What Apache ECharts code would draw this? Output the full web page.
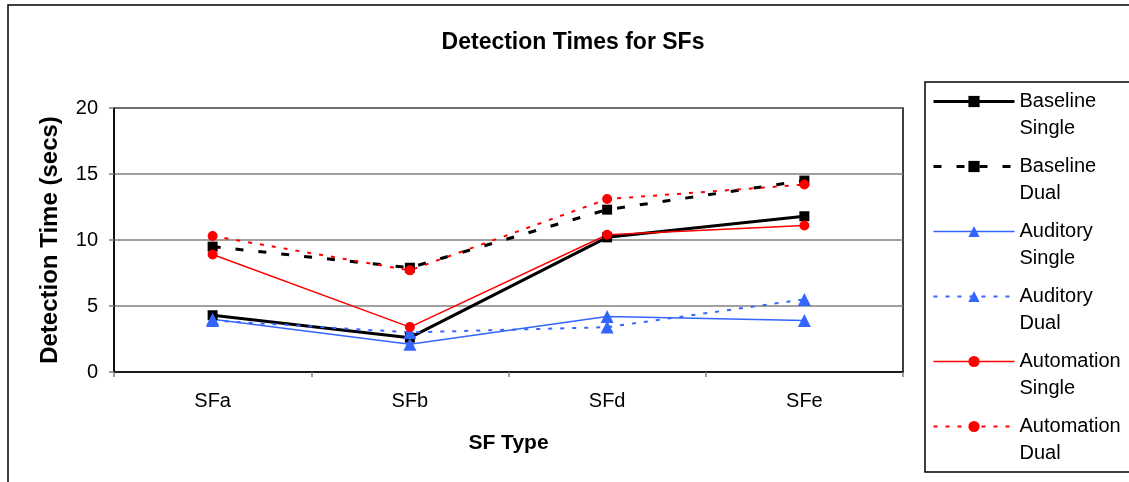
<!DOCTYPE html>
<html>
<head>
<meta charset="utf-8">
<script src="https://cdn.jsdelivr.net/npm/echarts@6/dist/echarts.min.js"></script>
<style>
html,body{margin:0;padding:0;background:#fff;}
#chart{width:1129px;height:482px;}
</style>
</head>
<body>
<div id="chart"></div>
<script>
const categories = ['SFa', 'SFb', 'SFd', 'SFe'];
const yTicks = [0, 5, 10, 15, 20];
const baselineSingle = [4.3, 2.6, 10.2, 11.8];
const baselineDual = [9.5, 7.9, 12.3, 14.5];
const auditorySingle = [4.0, 2.1, 4.2, 3.9];
const auditoryDual = [3.9, 3.0, 3.4, 5.5];
const automationSingle = [8.9, 3.4, 10.4, 11.1];
const automationDual = [10.3, 7.7, 13.1, 14.2];

const FONT = '"Liberation Sans", Arial, sans-serif';
const BLUE = '#3366FF';
const RED = '#FF0000';

function mk(name, data, color, width, type, symbol, size) {
  return {
    name: name, type: 'line', data: data,
    symbol: symbol, symbolSize: size, showSymbol: true,
    lineStyle: { color: color, width: width, type: type },
    itemStyle: { color: color },
    emphasis: { disabled: true },
    silent: true
  };
}

const chart = echarts.init(document.getElementById('chart'), null, { renderer: 'canvas' });
chart.setOption({
  animation: false,
  backgroundColor: '#fff',
  title: {
    text: 'Detection Times for SFs',
    left: 568, top: 26, textAlign: 'center',
    textStyle: { fontFamily: FONT, fontSize: 23, fontWeight: 'bold', color: '#000' }
  },
  graphic: [
    { type: 'rect', shape: { x: 8, y: 5, width: 1130, height: 482 }, style: { fill: 'none', stroke: '#000', lineWidth: 1.5 }, silent: true },
    { type: 'rect', shape: { x: 925, y: 82, width: 210, height: 390 }, style: { fill: 'none', stroke: '#000', lineWidth: 1.5 }, silent: true }
  ],
  legend: {
    orient: 'vertical', left: 932, top: 61, padding: 0,
    itemWidth: 81, itemHeight: 14, itemGap: -16,
    selectedMode: false,
    formatter: function (n) { return '\n' + n.replace(' ', '\n'); },
    textStyle: { fontFamily: FONT, fontSize: 20, color: '#000', lineHeight: 27 },
    data: [
      { name: 'Baseline Single', lineStyle: { width: 3 } },
      { name: 'Baseline Dual', lineStyle: { width: 3 } },
      { name: 'Auditory Single', lineStyle: { width: 1.5 } },
      { name: 'Auditory Dual', lineStyle: { width: 2 } },
      { name: 'Automation Single', lineStyle: { width: 1.5 } },
      { name: 'Automation Dual', lineStyle: { width: 2 } }
    ]
  },
  grid: { left: 114, top: 108, width: 789, height: 264, show: true, borderColor: '#000', borderWidth: 1.5, containLabel: false },
  xAxis: {
    type: 'category', data: categories, boundaryGap: true,
    name: 'SF Type', nameLocation: 'middle', nameGap: 61,
    nameTextStyle: { fontFamily: FONT, fontSize: 21, fontWeight: 'bold', color: '#000' },
    axisLine: { lineStyle: { color: '#000', width: 1.5 } },
    axisTick: { show: true, inside: false, length: 5, alignWithLabel: false, lineStyle: { color: '#808080', width: 1.5 } },
    axisLabel: { fontFamily: FONT, fontSize: 20, color: '#000', margin: 19 },
    splitLine: { show: false }
  },
  yAxis: {
    type: 'value', min: yTicks[0], max: yTicks[yTicks.length - 1], interval: 5,
    name: 'Detection Time (secs)', nameLocation: 'middle', nameGap: 52, nameRotate: 90,
    nameTextStyle: { fontFamily: FONT, fontSize: 24, fontWeight: 'bold', color: '#000' },
    axisLine: { show: true, lineStyle: { color: '#000', width: 1.5 } },
    axisTick: { show: true, inside: false, length: 5, lineStyle: { color: '#808080', width: 1.5 } },
    axisLabel: { fontFamily: FONT, fontSize: 20, color: '#000', margin: 16 },
    splitLine: { show: true, lineStyle: { color: '#808080', width: 1.5 } }
  },
  series: [
    mk('Baseline Single', baselineSingle, '#000', 3, 'solid', 'rect', 10),
    mk('Baseline Dual', baselineDual, '#000', 3, [8, 15], 'rect', 10),
    mk('Auditory Single', auditorySingle, BLUE, 1.5, 'solid', 'triangle', 13),
    mk('Auditory Dual', auditoryDual, BLUE, 2, [4, 8], 'triangle', 13),
    mk('Automation Single', automationSingle, RED, 1.5, 'solid', 'circle', 10),
    mk('Automation Dual', automationDual, RED, 2, [4, 8], 'circle', 10)
  ]
});
</script>
</body>
</html>
